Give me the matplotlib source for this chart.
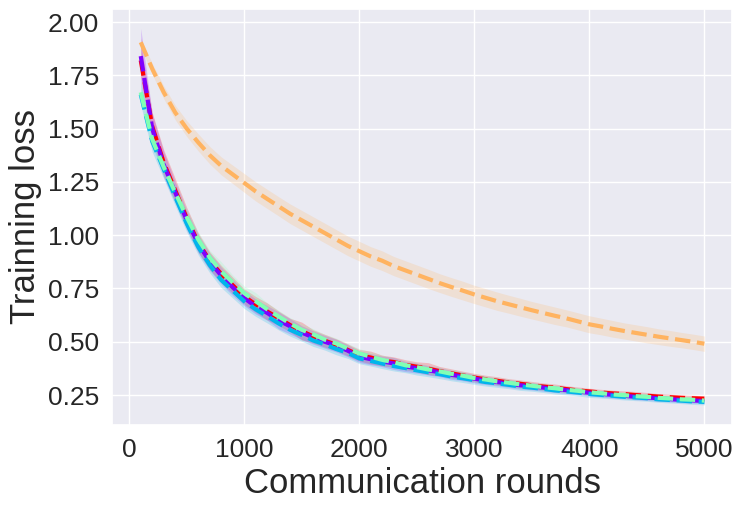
import numpy as np
import matplotlib
matplotlib.use("Agg")
import matplotlib.pyplot as plt
import seaborn as sns

sns.set_theme(style="darkgrid")
plt.rcParams['font.family'] = ['Liberation Sans', 'DejaVu Sans']

# communication rounds
rounds = np.arange(100, 5001, 100)

# mean training loss per method (rainbow order)
loss_purple = [1.84, 1.50, 1.33, 1.20, 1.07, 0.96, 0.875, 0.81, 0.755, 0.705,
               0.665, 0.635, 0.60, 0.572, 0.543, 0.52, 0.50, 0.482, 0.458, 0.43,
               0.418, 0.408, 0.398, 0.384, 0.376, 0.366, 0.357, 0.345, 0.337, 0.327,
               0.318, 0.311, 0.304, 0.296, 0.291, 0.285, 0.278, 0.273, 0.267, 0.261,
               0.256, 0.251, 0.247, 0.242, 0.239, 0.235, 0.231, 0.227, 0.225, 0.222]
loss_cyan = [1.66, 1.44, 1.31, 1.18, 1.055, 0.945, 0.86, 0.79, 0.74, 0.69,
             0.652, 0.62, 0.586, 0.556, 0.532, 0.506, 0.488, 0.466, 0.448, 0.422,
             0.41, 0.398, 0.386, 0.377, 0.366, 0.357, 0.348, 0.337, 0.329, 0.32,
             0.311, 0.305, 0.298, 0.29, 0.285, 0.279, 0.272, 0.267, 0.262, 0.255,
             0.251, 0.247, 0.242, 0.239, 0.235, 0.23, 0.227, 0.224, 0.22, 0.218]
loss_green = [1.67, 1.45, 1.32, 1.20, 1.085, 0.98, 0.895, 0.83, 0.778, 0.728,
              0.69, 0.652, 0.618, 0.585, 0.556, 0.535, 0.51, 0.492, 0.468, 0.445,
              0.43, 0.415, 0.404, 0.39, 0.381, 0.37, 0.361, 0.35, 0.341, 0.33,
              0.323, 0.314, 0.308, 0.3, 0.294, 0.287, 0.282, 0.275, 0.27, 0.263,
              0.259, 0.253, 0.25, 0.245, 0.242, 0.237, 0.234, 0.23, 0.228, 0.224]
loss_orange = [1.905, 1.78, 1.67, 1.575, 1.50, 1.435, 1.375, 1.325, 1.285, 1.245,
               1.205, 1.17, 1.135, 1.10, 1.07, 1.04, 1.01, 0.98, 0.95, 0.925,
               0.90, 0.88, 0.855, 0.835, 0.815, 0.795, 0.775, 0.757, 0.74, 0.722,
               0.706, 0.69, 0.676, 0.662, 0.648, 0.635, 0.622, 0.61, 0.596, 0.582,
               0.572, 0.561, 0.551, 0.542, 0.533, 0.524, 0.516, 0.508, 0.50, 0.491]
loss_red = [1.82, 1.51, 1.34, 1.21, 1.08, 0.965, 0.88, 0.818, 0.765, 0.712,
            0.675, 0.642, 0.61, 0.578, 0.55, 0.525, 0.505, 0.486, 0.462, 0.437,
            0.426, 0.412, 0.405, 0.392, 0.383, 0.374, 0.362, 0.352, 0.342, 0.332,
            0.324, 0.317, 0.309, 0.303, 0.296, 0.29, 0.285, 0.278, 0.272, 0.267,
            0.262, 0.258, 0.255, 0.25, 0.247, 0.243, 0.24, 0.237, 0.235, 0.233]

# spread over runs
sd_purple = [0.13, 0.07, 0.06, 0.05, 0.045, 0.042, 0.04, 0.04, 0.038, 0.036,
             0.035, 0.034, 0.04, 0.036, 0.032, 0.031, 0.03, 0.03, 0.028, 0.027,
             0.026, 0.025, 0.028, 0.024, 0.023, 0.022, 0.021, 0.021, 0.02, 0.02,
             0.019, 0.018, 0.018, 0.018, 0.017, 0.017, 0.016, 0.016, 0.015, 0.015,
             0.015, 0.015, 0.014, 0.014, 0.014, 0.014, 0.013, 0.013, 0.013, 0.013]
sd_cyan = [0.05, 0.05, 0.045, 0.042, 0.04, 0.038, 0.037, 0.036, 0.035, 0.034,
           0.033, 0.032, 0.031, 0.03, 0.029, 0.028, 0.027, 0.027, 0.026, 0.025,
           0.024, 0.024, 0.023, 0.022, 0.022, 0.021, 0.021, 0.02, 0.02, 0.02,
           0.019, 0.019, 0.018, 0.018, 0.017, 0.017, 0.017, 0.016, 0.016, 0.016,
           0.015, 0.015, 0.015, 0.015, 0.014, 0.014, 0.014, 0.014, 0.014, 0.014]
sd_green = [0.04, 0.04, 0.04, 0.038, 0.036, 0.035, 0.034, 0.045, 0.035, 0.033,
            0.04, 0.03, 0.029, 0.028, 0.027, 0.026, 0.025, 0.025, 0.024, 0.023,
            0.022, 0.022, 0.021, 0.021, 0.02, 0.02, 0.019, 0.019, 0.018, 0.018,
            0.017, 0.017, 0.017, 0.016, 0.016, 0.016, 0.015, 0.015, 0.015, 0.014,
            0.014, 0.014, 0.014, 0.013, 0.013, 0.013, 0.013, 0.013, 0.012, 0.012]
sd_orange = [0.02, 0.025, 0.03, 0.034, 0.037, 0.04, 0.041, 0.042, 0.043, 0.044,
             0.045, 0.045, 0.045, 0.046, 0.046, 0.046, 0.046, 0.046, 0.046, 0.046,
             0.046, 0.046, 0.045, 0.045, 0.045, 0.045, 0.044, 0.044, 0.044, 0.043,
             0.043, 0.043, 0.042, 0.042, 0.041, 0.041, 0.041, 0.04, 0.04, 0.04,
             0.039, 0.039, 0.038, 0.038, 0.038, 0.037, 0.037, 0.036, 0.036, 0.036]
sd_red = [0.08, 0.065, 0.06, 0.055, 0.05, 0.045, 0.042, 0.04, 0.038, 0.036,
          0.037, 0.04, 0.034, 0.032, 0.042, 0.031, 0.03, 0.028, 0.028, 0.027,
          0.03, 0.025, 0.024, 0.024, 0.023, 0.028, 0.022, 0.021, 0.02, 0.02,
          0.019, 0.019, 0.018, 0.018, 0.018, 0.017, 0.017, 0.016, 0.016, 0.015,
          0.015, 0.015, 0.015, 0.017, 0.015, 0.014, 0.014, 0.014, 0.014, 0.014]

cols = plt.cm.rainbow(np.linspace(0, 1, 5))
# (mean, sd, colour), drawn so purple/cyan/green sit on top of red
series = [
    (loss_red, sd_red, cols[4]),
    (loss_orange, sd_orange, cols[3]),
    (loss_purple, sd_purple, cols[0]),
    (loss_cyan, sd_cyan, cols[1]),
    (loss_green, sd_green, cols[2]),
]

fig = plt.figure(figsize=(7.45, 5.09), dpi=100)
ax = fig.add_axes([112/745, 1 - 424.7/509, 620/745, 415.7/509])

for m, s, c in series:
    m = np.array(m)
    s = np.array(s)
    ax.fill_between(rounds, m - s, m + s, color=c, alpha=0.2, linewidth=0)
for m, s, c in series:
    ax.plot(rounds, m, color=c, linestyle='--', linewidth=3)

ax.set_xlim(-150, 5241)
ax.set_ylim(0.111, 2.061)
ax.set_xticks([0, 1000, 2000, 3000, 4000, 5000])
ax.set_yticks([0.25, 0.5, 0.75, 1.0, 1.25, 1.5, 1.75, 2.0])
ax.tick_params(labelsize=19)
ax.set_xlabel("Communication rounds", fontsize=25)
ax.set_ylabel("Trainning loss", fontsize=25)

fig.savefig("out.png", dpi=100)
